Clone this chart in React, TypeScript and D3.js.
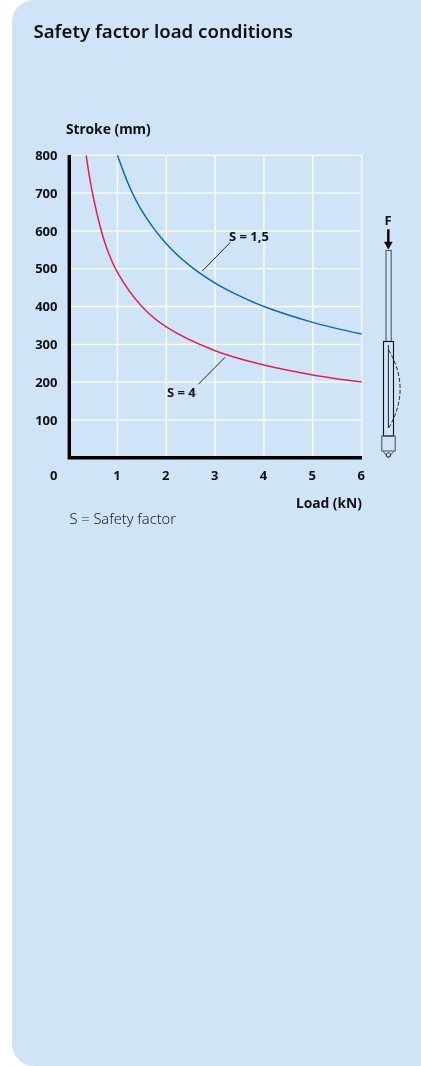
import React from "react";
import * as d3 from "d3";

const title = "Safety factor load conditions";
const yTicks = [100, 200, 300, 400, 500, 600, 700, 800];
const xTicks = [1, 2, 3, 4, 5, 6];
const blueX = [1, 1.25, 1.5, 2, 2.5, 3, 3.5, 4, 5, 6];
const blueY = [800, 716, 653, 566, 506, 462, 428, 400, 358, 327];
const redX = [0.36, 0.5, 0.75, 1, 1.5, 2, 3, 4, 5, 6];
const redY = [800, 693, 566, 490, 400, 346, 283, 245, 219, 200];

const FONT = "'Noto Sans', sans-serif";
const x = d3.scaleLinear().domain([0, 6]).range([68.6, 361.6]);
const y = d3.scaleLinear().domain([0, 800]).range([457.7, 155.3]);

const curve = (xs: number[], ys: number[]) =>
  d3.line<number>().x((d) => x(d)).y((_, i) => y(ys[i])).curve(d3.curveCatmullRom.alpha(0.5))(xs) as string;

const tk = { fontFamily: FONT, fontWeight: 700, fontSize: 13, fill: "#111" } as const;

export default function App() {
  return (
    <svg width={421} height={1066} style={{ position: "fixed", left: 0, top: 0 }}>
      <path d="M421 0H34A22 22 0 0 0 12 22V1044A22 22 0 0 0 34 1066H421Z" fill="#cfe4f7" />
      <text x={33.5} y={37.7} fontFamily={FONT} fontWeight={600} fontSize={18.6} fill="#111">{title}</text>
      <text x={66} y={134} {...tk} fontSize={13.8}>Stroke (mm)</text>

      {yTicks.map((t) => (
        <g key={t}>
          <line x1={71} x2={362.5} y1={y(t)} y2={y(t)} stroke="#fff" strokeWidth={1.3} />
          <text x={57.5} y={y(t) + 4.7} textAnchor="end" {...tk}>{t}</text>
        </g>
      ))}
      {xTicks.map((t) => (
        <g key={t}>
          <line x1={x(t)} x2={x(t)} y1={155} y2={456} stroke="#fff" strokeWidth={1.3} />
          <text x={x(t) - 0.5} y={480} textAnchor="middle" {...tk}>{t}</text>
        </g>
      ))}
      <text x={53.7} y={480} textAnchor="middle" {...tk}>0</text>

      <path d={curve(blueX, blueY)} fill="none" stroke="#0a6ab5" strokeWidth={1.5} />
      <path d={curve(redX, redY)} fill="none" stroke="#e0234e" strokeWidth={1.5} />

      <path d="M69.3 155V457.7H362" fill="none" stroke="#000" strokeWidth={3.4} />

      <line x1={202.3} y1={271} x2={230} y2={242.7} stroke="#111" strokeWidth={0.9} />
      <line x1={198.3} y1={384.3} x2={225} y2={357.3} stroke="#111" strokeWidth={0.9} />
      <text x={229} y={241} {...tk}>S = 1,5</text>
      <text x={167} y={397.3} {...tk}>S = 4</text>
      <text x={362} y={507.7} textAnchor="end" {...tk} fontSize={13.8}>Load (kN)</text>
      <text x={69.5} y={524.3} fontFamily={FONT} fontWeight={300} fontSize={14.6} fill="#222">S = Safety factor</text>

      <text x={388} y={225} textAnchor="middle" {...tk}>F</text>
      <line x1={388.3} x2={388.3} y1={229.3} y2={243} stroke="#000" strokeWidth={2.4} />
      <path d="M384 241.7L392.7 241.7L388.3 249.5Z" fill="#000" />
      <rect x={386} y={250.5} width={5.2} height={91} fill="none" stroke="#4d5a66" strokeWidth={1.1} />
      <rect x={383.5} y={341.5} width={10} height={94.5} fill="#cfe4f7" stroke="#111" strokeWidth={1.1} />
      <line x1={388.4} x2={388.4} y1={345} y2={428} stroke="#111" strokeWidth={0.9} />
      <path d="M388.7 350Q411.5 389 388.7 428" fill="none" stroke="#111" strokeWidth={0.9} strokeDasharray="4 2" />
      <rect x={381.8} y={436} width={13.4} height={15} fill="none" stroke="#4d5a66" strokeWidth={1.1} />
      <path d="M383.2 451.5L388.4 457.5L393.6 451.5" fill="none" stroke="#333" strokeWidth={0.9} />
      <circle cx={388.4} cy={455} r={2.3} fill="none" stroke="#333" strokeWidth={0.9} />
    </svg>
  );
}
